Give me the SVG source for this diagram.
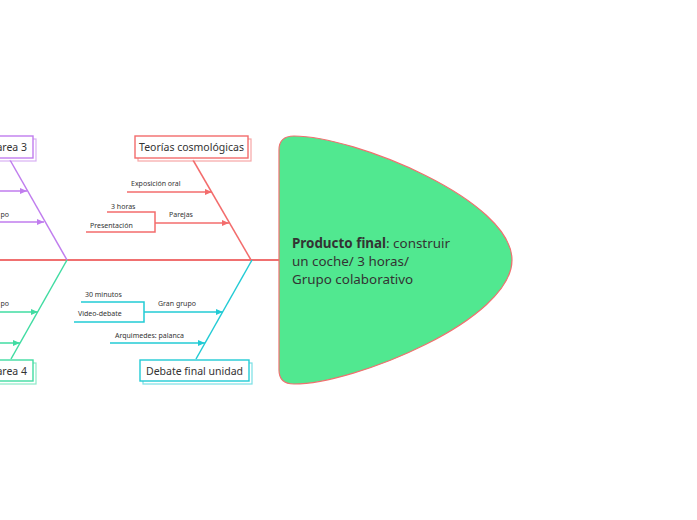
<svg xmlns="http://www.w3.org/2000/svg" width="697" height="520" viewBox="0 0 697 520">
<style>
text{font-family:"Noto Sans","Liberation Sans",sans-serif;fill:#333}
.lbl{font-size:7px}
.nt{font-size:10.5px}
.ln{fill:none;stroke-width:1.5}
.red{stroke:#F36C6C}
.cy{stroke:#22CBD5}
.pu{stroke:#C07DEE}
.gr{stroke:#40DCA2}
.box{fill:#fff;stroke-width:1.4}
.sh{fill:#fff;stroke-width:1.2;opacity:0.6}
</style>
<defs>
<marker id="ar" markerUnits="userSpaceOnUse" markerWidth="8" markerHeight="8" refX="7" refY="4" orient="auto"><path d="M0,1 L7,4 L0,7 Z" fill="#F36C6C"/></marker>
<marker id="ac" markerUnits="userSpaceOnUse" markerWidth="8" markerHeight="8" refX="7" refY="4" orient="auto"><path d="M0,1 L7,4 L0,7 Z" fill="#22CBD5"/></marker>
<marker id="ap" markerUnits="userSpaceOnUse" markerWidth="8" markerHeight="8" refX="7" refY="4" orient="auto"><path d="M0,1 L7,4 L0,7 Z" fill="#C07DEE"/></marker>
<marker id="ag" markerUnits="userSpaceOnUse" markerWidth="8" markerHeight="8" refX="7" refY="4" orient="auto"><path d="M0,1 L7,4 L0,7 Z" fill="#40DCA2"/></marker>
</defs>
<rect width="697" height="520" fill="#fff"/>
<g id="connectors">
<line x1="0" y1="260" x2="280" y2="260" stroke="#F07070" stroke-width="2"/>
<line class="ln red" x1="193" y1="160" x2="251" y2="260"/>
<line class="ln red" x1="127" y1="192" x2="212" y2="192" marker-end="url(#ar)"/>
<line class="ln red" x1="155" y1="223" x2="229" y2="223" marker-end="url(#ar)"/>
<polyline class="ln red" points="107,212 155,212 155,232 86,232"/>
<line class="ln cy" x1="196" y1="359" x2="252" y2="260"/>
<line class="ln cy" x1="144" y1="312" x2="223" y2="312" marker-end="url(#ac)"/>
<polyline class="ln cy" points="81,302 144,302 144,322 74,322"/>
<line class="ln cy" x1="110" y1="343" x2="205" y2="343" marker-end="url(#ac)"/>
<line class="ln pu" x1="10" y1="160" x2="67" y2="260"/>
<line class="ln pu" x1="-60" y1="191" x2="27" y2="191" marker-end="url(#ap)"/>
<line class="ln pu" x1="-30" y1="222" x2="44" y2="222" marker-end="url(#ap)"/>
<line class="ln gr" x1="11" y1="359" x2="67" y2="260"/>
<line class="ln gr" x1="-40" y1="312" x2="38" y2="312" marker-end="url(#ag)"/>
<line class="ln gr" x1="-60" y1="343" x2="20" y2="343" marker-end="url(#ag)"/>
</g>
<g id="head">
<path d="M279,150 Q279,136 294,136 C354,136 512,200 512,260 C512,320 354,384 294,384 Q279,384 279,370 Z" fill="#51E890" stroke="#F07070" stroke-width="1.2"/>
<text x="292" y="248" font-size="13.4"><tspan font-weight="bold">Producto final</tspan>: construir</text>
<text x="292" y="266" font-size="13.4">un coche/ 3 horas/</text>
<text x="292" y="284" font-size="13.4">Grupo colaborativo</text>
</g>
<g id="teorias">
<rect class="sh red" x="138" y="139" width="113" height="22"/>
<rect class="box red" x="135" y="136" width="113" height="22"/>
<text class="nt" x="191.5" y="151" text-anchor="middle">Teorías cosmológicas</text>
</g>
<g id="t-expo"><text class="lbl" x="131" y="186">Exposición oral</text></g>
<g id="t-parejas"><text class="lbl" x="169" y="216.5">Parejas</text></g>
<g id="t-3horas"><text class="lbl" x="111" y="208.5">3 horas</text></g>
<g id="t-present"><text class="lbl" x="90" y="227.5">Presentación</text></g>
<g id="debate">
<rect class="sh cy" x="143" y="363" width="109" height="21"/>
<rect class="box cy" x="140" y="360" width="109" height="21"/>
<text class="nt" x="194.5" y="374.5" text-anchor="middle">Debate final unidad</text>
</g>
<g id="d-gran"><text class="lbl" x="158" y="305.5">Gran grupo</text></g>
<g id="d-30"><text class="lbl" x="85" y="296.5">30 minutos</text></g>
<g id="d-video"><text class="lbl" x="78" y="315.5">Video-debate</text></g>
<g id="d-arq"><text class="lbl" x="115" y="337.5">Arquimedes: palanca</text></g>
<g id="tarea3">
<rect class="sh pu" x="-47" y="139" width="83" height="22"/>
<rect class="box pu" x="-50" y="136" width="83" height="22"/>
<text class="nt" x="27" y="151" text-anchor="end">Tarea 3</text>
</g>
<g id="t3-sub"><text class="lbl" x="9" y="216.5" text-anchor="end">po</text></g>
<g id="tarea4">
<rect class="sh gr" x="-47" y="363" width="83" height="21"/>
<rect class="box gr" x="-50" y="360" width="83" height="21"/>
<text class="nt" x="27" y="374.5" text-anchor="end">Tarea 4</text>
</g>
<g id="t4-sub"><text class="lbl" x="9" y="305.5" text-anchor="end">po</text></g>
</svg>
